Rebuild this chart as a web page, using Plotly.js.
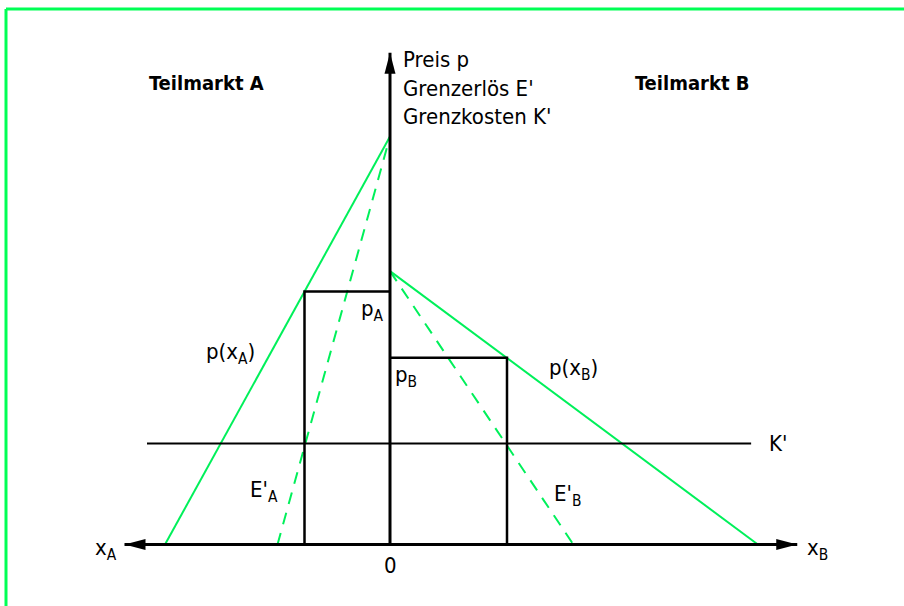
<!DOCTYPE html>
<html>
<head>
<meta charset="utf-8">
<script src="https://cdn.plot.ly/plotly-3.0.1.min.js"></script>
<style>html,body{margin:0;padding:0;background:#fff;}#chart{width:904px;height:606px;}</style>
</head>
<body>
<div id="chart"></div>
<script>
// ---- data (economic units) ----
// Teilmarkt A is drawn to the left of the price axis (negative x)
const demandA_x = [-10, 0];     // p(x_A): quantity intercept, 0
const demandA_p = [0, 20];      // price at those points
const mrA_x = [-5, 0];          // E'_A
const mrA_p = [0, 20];
const demandB_x = [0, 16.35];   // p(x_B)
const demandB_p = [13.4, 0];
const mrB_x = [0, 8.15];        // E'_B
const mrB_p = [13.4, 0];
const mcLevel = 4.95;           // K'
const mcRange = [-10.8, 16.05];
const optA = {x: -3.8, p: 12.4};   // x_A*, p_A
const optB = {x: 5.2, p: 9.15};    // x_B*, p_B
const axisX = [-11.8, 18.1];       // quantity axis tips
const axisPTop = 24.1;             // price axis tip

const GREEN = '#00f05a';
const FONT = '"DejaVu Sans Condensed","Liberation Sans Narrow",Arial,sans-serif';

const traces = [
  {x: demandA_x, y: demandA_p, mode: 'lines', line: {color: GREEN, width: 2}},
  {x: mrA_x, y: mrA_p, mode: 'lines', line: {color: GREEN, width: 2, dash: '12px,9px'}},
  {x: demandB_x, y: demandB_p, mode: 'lines', line: {color: GREEN, width: 2}},
  {x: mrB_x, y: mrB_p, mode: 'lines', line: {color: GREEN, width: 2, dash: '12px,9px'}},
  {x: mcRange, y: [mcLevel, mcLevel], mode: 'lines', line: {color: '#000', width: 2}},
  {x: [optA.x, optA.x, 0], y: [0, optA.p, optA.p], mode: 'lines', line: {color: '#000', width: 2.5}},
  {x: [0, optB.x, optB.x], y: [optB.p, optB.p, 0], mode: 'lines', line: {color: '#000', width: 2.5}},
  {x: axisX, y: [0, 0], mode: 'lines', line: {color: '#000', width: 3}},
  {x: [0, 0], y: [0, axisPTop], mode: 'lines', line: {color: '#000', width: 3}}
];

function arrow(xa, ya, path) {
  return {type: 'path', xref: 'x', yref: 'y', xsizemode: 'pixel', ysizemode: 'pixel',
          xanchor: xa, yanchor: ya, path: path, fillcolor: '#000', line: {width: 0}};
}

const shapes = [
  arrow(axisX[0], 0, 'M0,0 L21,5.5 L21,-5.5 Z'),
  arrow(axisX[1], 0, 'M0,0 L-21,5.5 L-21,-5.5 Z'),
  arrow(0, axisPTop, 'M0,0 L-5.5,-21 L5.5,-21 Z'),
  // green frame
  {type: 'line', xref: 'paper', yref: 'paper', x0: 6/904, x1: 1.01, y0: 1 - 9/606, y1: 1 - 9/606,
   line: {color: '#00ff55', width: 3}},
  {type: 'line', xref: 'paper', yref: 'paper', x0: 6/904, x1: 6/904, y0: -0.01, y1: 1 - 9/606,
   line: {color: '#00ff55', width: 3}}
];

const f = {family: FONT, size: 22, color: '#000'};
const fb = {family: FONT, size: 20, color: '#000', weight: 'bold'};
function lab(x, y, text, xa, ya, xs, ys, font) {
  return {x: x, y: y, xref: 'x', yref: 'y', text: text, showarrow: false,
          xanchor: xa, yanchor: ya, xshift: xs || 0, yshift: ys || 0, font: font || f};
}

const annotations = [
  lab(0, axisPTop, 'Preis p', 'left', 'middle', 11, -7),
  lab(0, axisPTop, 'Grenzerlös E\'', 'left', 'middle', 11, -36),
  lab(0, axisPTop, 'Grenzkosten K\'', 'left', 'middle', 11, -64),
  lab(mcRange[0], axisPTop, 'Teilmarkt A', 'left', 'middle', 0, -30, fb),
  lab(mcRange[1], axisPTop, 'Teilmarkt B', 'right', 'middle', 0, -30, fb),
  lab(0, optA.p, 'p<sub>A</sub>', 'right', 'top', -4, -2),
  lab(0, optB.p, 'p<sub>B</sub>', 'left', 'top', 3, -2),
  lab(optA.x, optA.p, 'p(x<sub>A</sub>)', 'right', 'middle', -48, -62),
  lab(optB.x, optB.p, 'p(x<sub>B</sub>)', 'left', 'middle', 40, -12),
  lab(optA.x, mcLevel, 'E\'<sub>A</sub>', 'right', 'middle', -25, -48),
  lab(optB.x, mcLevel, 'E\'<sub>B</sub>', 'left', 'middle', 45, -52),
  lab(mcRange[1], mcLevel, 'K\'', 'left', 'middle', 16, 0),
  lab(axisX[0], 0, 'x<sub>A</sub>', 'right', 'middle', -6, -5),
  lab(axisX[1], 0, 'x<sub>B</sub>', 'left', 'middle', 8, -5),
  lab(0, 0, '0', 'center', 'top', 0, -6)
];

const layout = {
  width: 904, height: 606,
  margin: {l: 0, r: 0, t: 0, b: 0, pad: 0},
  paper_bgcolor: '#fff', plot_bgcolor: '#fff',
  showlegend: false,
  xaxis: {range: [-390/22.5, 514/22.5], visible: false, fixedrange: true},
  yaxis: {range: [(544.5-606)/20.4, 544.5/20.4], visible: false, fixedrange: true},
  shapes: shapes,
  annotations: annotations,
  hovermode: false
};

Plotly.newPlot('chart', traces, layout, {displayModeBar: false, staticPlot: true});
</script>
</body>
</html>
